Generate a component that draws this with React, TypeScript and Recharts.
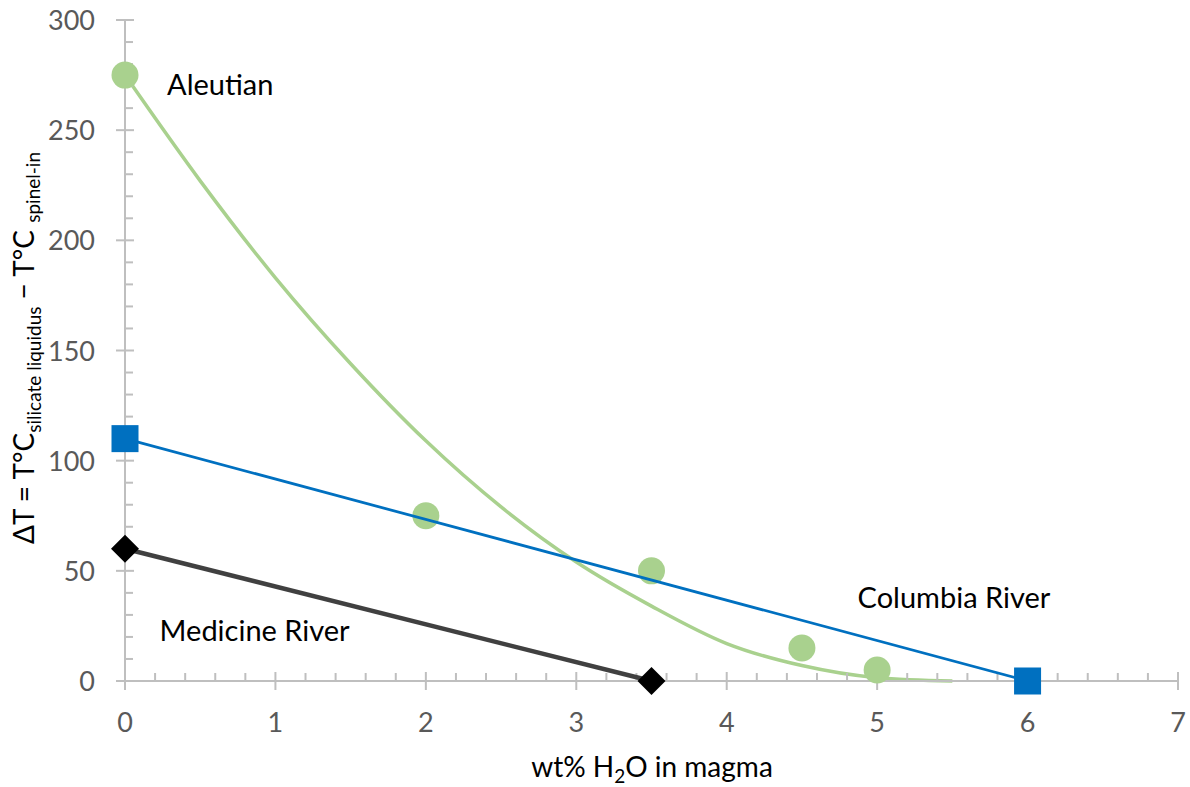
import React from 'react';
import { ComposedChart, Line, XAxis, YAxis, ReferenceDot, Label } from 'recharts';

// ---- data ----
const xMajorTicks = [0, 1, 2, 3, 4, 5, 6, 7];
const yMajorTicks = [0, 50, 100, 150, 200, 250, 300];
const xMinorStep = 0.2;
const yMinorStep = 10;

const aleutianX = [0, 2, 3.5, 4.5, 5];
const aleutianY = [275, 75, 50, 15, 5];

// polynomial trend line of the Aleutian points
const aleutianTrendX = [0, 0.5, 1, 1.5, 2, 2.5, 3, 3.5, 4, 4.5, 5, 5.5];
const aleutianTrendY = [275, 227, 183, 144, 109, 79, 54, 34, 17, 7, 1.5, 0];

const columbiaX = [0, 6];
const columbiaY = [110, 0];

const medicineX = [0, 3.5];
const medicineY = [60, 0];

const annLabels = ['Aleutian', 'Medicine River', 'Columbia River'];
const annX = [0.28, 0.23, 4.87];
const annY = [266, 18, 33];

// ---- derived tables ----
const toPts = (xs: number[], ys: number[]) => xs.map((x, i) => ({ x, y: ys[i] }));
const aleutian = toPts(aleutianX, aleutianY);
const aleutianTrend = toPts(aleutianTrendX, aleutianTrendY);
const columbia = toPts(columbiaX, columbiaY);
const medicine = toPts(medicineX, medicineY);

const xAllTicks: number[] = [];
for (let i = 0; i <= Math.round(7 / xMinorStep); i++) xAllTicks.push(Math.round(i * xMinorStep * 10) / 10);
const yAllTicks: number[] = [];
for (let i = 0; i <= Math.round(300 / yMinorStep); i++) yAllTicks.push(i * yMinorStep);

const FONT = 'Lato, "Open Sans", sans-serif';
const AXIS = '#bfbfbf';
const TICKTXT = '#595959';
const W = 1190;
const H = 787;
const Y_AXIS_W = 125;
const X_AXIS_H = 106;
const MARGIN = { top: 20, right: 12, bottom: 0, left: 0 };
const OVERLAY_MARGIN = { top: 20, right: 12, bottom: X_AXIS_H, left: Y_AXIS_W };

const XTick = (props: any) => {
  const { x, y, payload } = props;
  const v = payload.value;
  const major = xMajorTicks.some((t) => Math.abs(t - v) < 1e-6);
  return (
    <g>
      {major ? (
        <line x1={x} x2={x} y1={y - 9} y2={y + 9} stroke={AXIS} strokeWidth={2} />
      ) : (
        <line x1={x} x2={x} y1={y - 8} y2={y} stroke={AXIS} strokeWidth={2} />
      )}
      {major && (
        <text x={x} y={y + 51} textAnchor="middle" fill={TICKTXT} fontSize={27} fontFamily={FONT}>
          {v}
        </text>
      )}
    </g>
  );
};

const YTick = (props: any) => {
  const { x, y, payload } = props;
  const v = payload.value;
  const major = yMajorTicks.includes(v);
  return (
    <g>
      {major ? (
        <line x1={x - 9} x2={x + 9} y1={y} y2={y} stroke={AXIS} strokeWidth={2} />
      ) : (
        <line x1={x} x2={x + 8} y1={y} y2={y} stroke={AXIS} strokeWidth={2} />
      )}
      {major && (
        <text x={x - 30} y={y + 10} textAnchor="end" fill={TICKTXT} fontSize={27} fontFamily={FONT}>
          {v}
        </text>
      )}
    </g>
  );
};

const XTitle = () => (
  <text x={652} y={777} textAnchor="middle" fill="#000" fontSize={28} fontFamily={FONT}>
    <tspan>wt% H</tspan>
    <tspan fontSize={19} dy={6}>2</tspan>
    <tspan dy={-6}>O in magma</tspan>
  </text>
);

const YTitle = () => {
  const cx = 34;
  const cy = 348;
  return (
    <g transform={`translate(${cx}, ${cy}) rotate(-90)`}>
      <text x={0} y={0} textAnchor="middle" fill="#000" fontSize={28} fontFamily={FONT}>
        <tspan>ΔT = T°C</tspan>
        <tspan fontSize={19} dy={7}>silicate liquidus</tspan>
        <tspan dy={-7}> − T°C </tspan>
        <tspan fontSize={19} dy={6}>spinel-in</tspan>
      </text>
    </g>
  );
};

const Circle = (props: any) => {
  const { cx, cy } = props;
  if (cx == null || cy == null) return null;
  return <circle cx={cx} cy={cy} r={13.5} fill="#a9d18e" />;
};
const Square = (props: any) => {
  const { cx, cy } = props;
  if (cx == null || cy == null) return null;
  return <rect x={cx - 13.5} y={cy - 13.5} width={27} height={27} fill="#0070c0" />;
};
const Diamond = (props: any) => {
  const { cx, cy } = props;
  if (cx == null || cy == null) return null;
  const r = 14;
  return <path d={`M${cx},${cy - r}L${cx + r},${cy}L${cx},${cy + r}L${cx - r},${cy}Z`} fill="#000" />;
};

const overlayStyle: React.CSSProperties = { position: 'absolute', left: 0, top: 0, pointerEvents: 'none' };

// a transparent layer with the same scales (hidden axes) so marks stack above the axis ticks
const Overlay = ({ children }: { children: React.ReactNode }) => (
  <div style={overlayStyle}>
    <ComposedChart width={W} height={H} margin={OVERLAY_MARGIN}>
      <XAxis type="number" dataKey="x" domain={[0, 7]} hide />
      <YAxis type="number" dataKey="y" domain={[0, 300]} hide />
      {children}
    </ComposedChart>
  </div>
);

export default function App() {
  return (
    <div style={{ position: 'absolute', left: 0, top: 0, width: W, height: H, background: '#fff' }}>
      <div style={overlayStyle}>
        <ComposedChart width={W} height={H} margin={MARGIN}>
          <XAxis
            type="number"
            dataKey="x"
            domain={[0, 7]}
            ticks={xAllTicks}
            interval={0}
            tickSize={0}
            tickMargin={0}
            tick={<XTick />}
            tickLine={false}
            axisLine={{ stroke: AXIS, strokeWidth: 2 }}
            height={X_AXIS_H}
          >
            <Label content={<XTitle />} />
          </XAxis>
          <YAxis
            type="number"
            dataKey="y"
            domain={[0, 300]}
            ticks={yAllTicks}
            interval={0}
            tickSize={0}
            tickMargin={0}
            tick={<YTick />}
            tickLine={false}
            axisLine={{ stroke: AXIS, strokeWidth: 2 }}
            width={Y_AXIS_W}
          >
            <Label content={<YTitle />} />
          </YAxis>
          <Line
            data={aleutianTrend}
            dataKey="y"
            type="monotone"
            stroke="#a9d18e"
            strokeWidth={3.5}
            dot={false}
            activeDot={false}
            isAnimationActive={false}
          />
          {annLabels.map((t, i) => (
            <ReferenceDot
              key={t}
              x={annX[i]}
              y={annY[i]}
              r={0}
              fill="none"
              stroke="none"
              label={{
                content: (p: any) => {
                  const vb = p.viewBox || {};
                  return (
                    <text x={vb.x} y={vb.y} fill="#000" fontSize={29} fontFamily={FONT}>
                      {t}
                    </text>
                  );
                },
              }}
            />
          ))}
        </ComposedChart>
      </div>
      <Overlay>
        <Line
          data={aleutian}
          dataKey="y"
          stroke="none"
          dot={<Circle />}
          activeDot={false}
          isAnimationActive={false}
        />
      </Overlay>
      <Overlay>
        <Line
          data={columbia}
          dataKey="y"
          stroke="#0070c0"
          strokeWidth={2.75}
          dot={<Square />}
          activeDot={false}
          isAnimationActive={false}
        />
        <Line
          data={medicine}
          dataKey="y"
          stroke="#404040"
          strokeWidth={4.5}
          dot={<Diamond />}
          activeDot={false}
          isAnimationActive={false}
        />
      </Overlay>
    </div>
  );
}
